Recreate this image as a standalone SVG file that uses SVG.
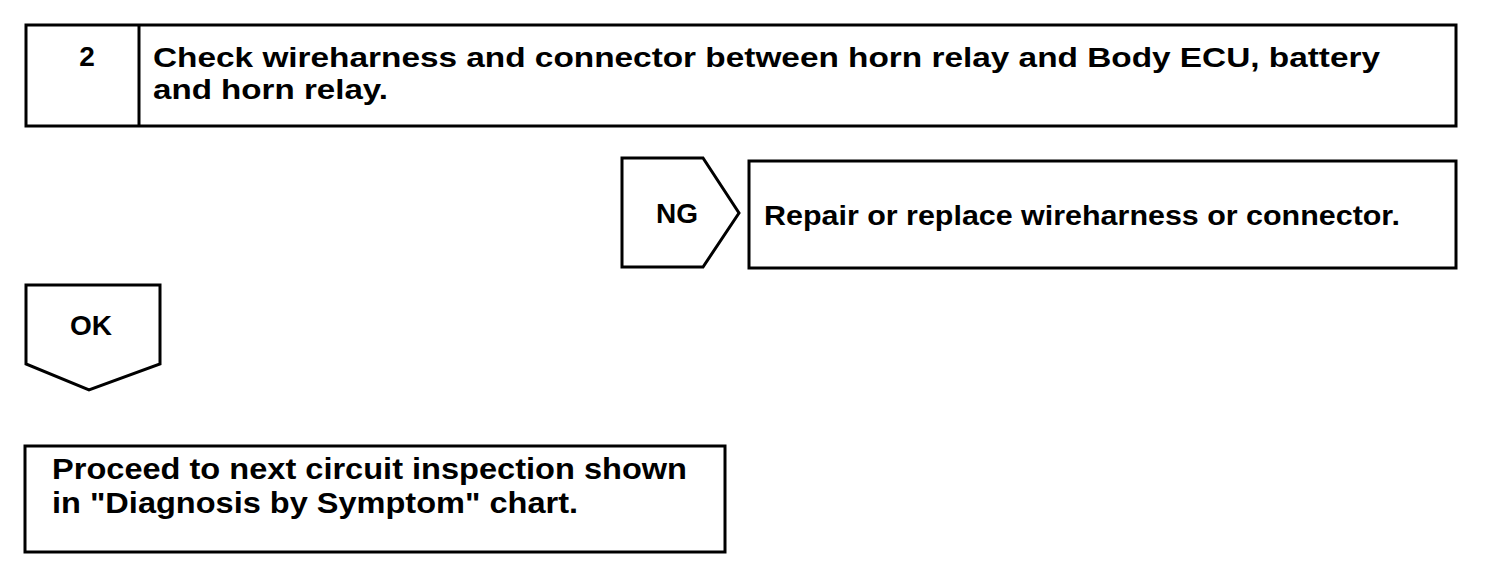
<svg xmlns="http://www.w3.org/2000/svg" width="1504" height="584" viewBox="0 0 1504 584">
<style>
.box{fill:#fff;stroke:#000;stroke-width:3}
.t{font-family:"Liberation Sans",Arial,sans-serif;font-weight:bold;font-size:28px;fill:#000}
.t30{font-size:30px}
</style>
<rect width="1504" height="584" fill="#fff"/>
<g id="step2">
<rect class="box" x="26" y="25" width="1430" height="101"/>
<line x1="139" y1="25" x2="139" y2="126" stroke="#000" stroke-width="3"/>
<text class="t" x="87" y="66" text-anchor="middle">2</text>
<text class="t" x="153" y="67" textLength="1227" lengthAdjust="spacingAndGlyphs">Check wireharness and connector between horn relay and Body ECU, battery</text>
<text class="t" x="153" y="99" textLength="235" lengthAdjust="spacingAndGlyphs">and horn relay.</text>
</g>
<g id="ng">
<polygon class="box" points="622,158 703,158 739,213 703,267 622,267"/>
<text class="t" x="677" y="223" text-anchor="middle">NG</text>
</g>
<g id="repair">
<rect class="box" x="749" y="161" width="707" height="107"/>
<text class="t" x="764" y="225" textLength="636" lengthAdjust="spacingAndGlyphs">Repair or replace wireharness or connector.</text>
</g>
<g id="ok">
<polygon class="box" points="26,285 160,285 160,364 89,390 26,364"/>
<text class="t" x="91" y="335" text-anchor="middle">OK</text>
</g>
<g id="proceed">
<rect class="box" x="25" y="446" width="700" height="106"/>
<text class="t t30" x="52" y="479" textLength="635" lengthAdjust="spacingAndGlyphs">Proceed to next circuit inspection shown</text>
<text class="t t30" x="52" y="513" textLength="526" lengthAdjust="spacingAndGlyphs">in "Diagnosis by Symptom" chart.</text>
</g>
<g id="connectors"></g>
</svg>
